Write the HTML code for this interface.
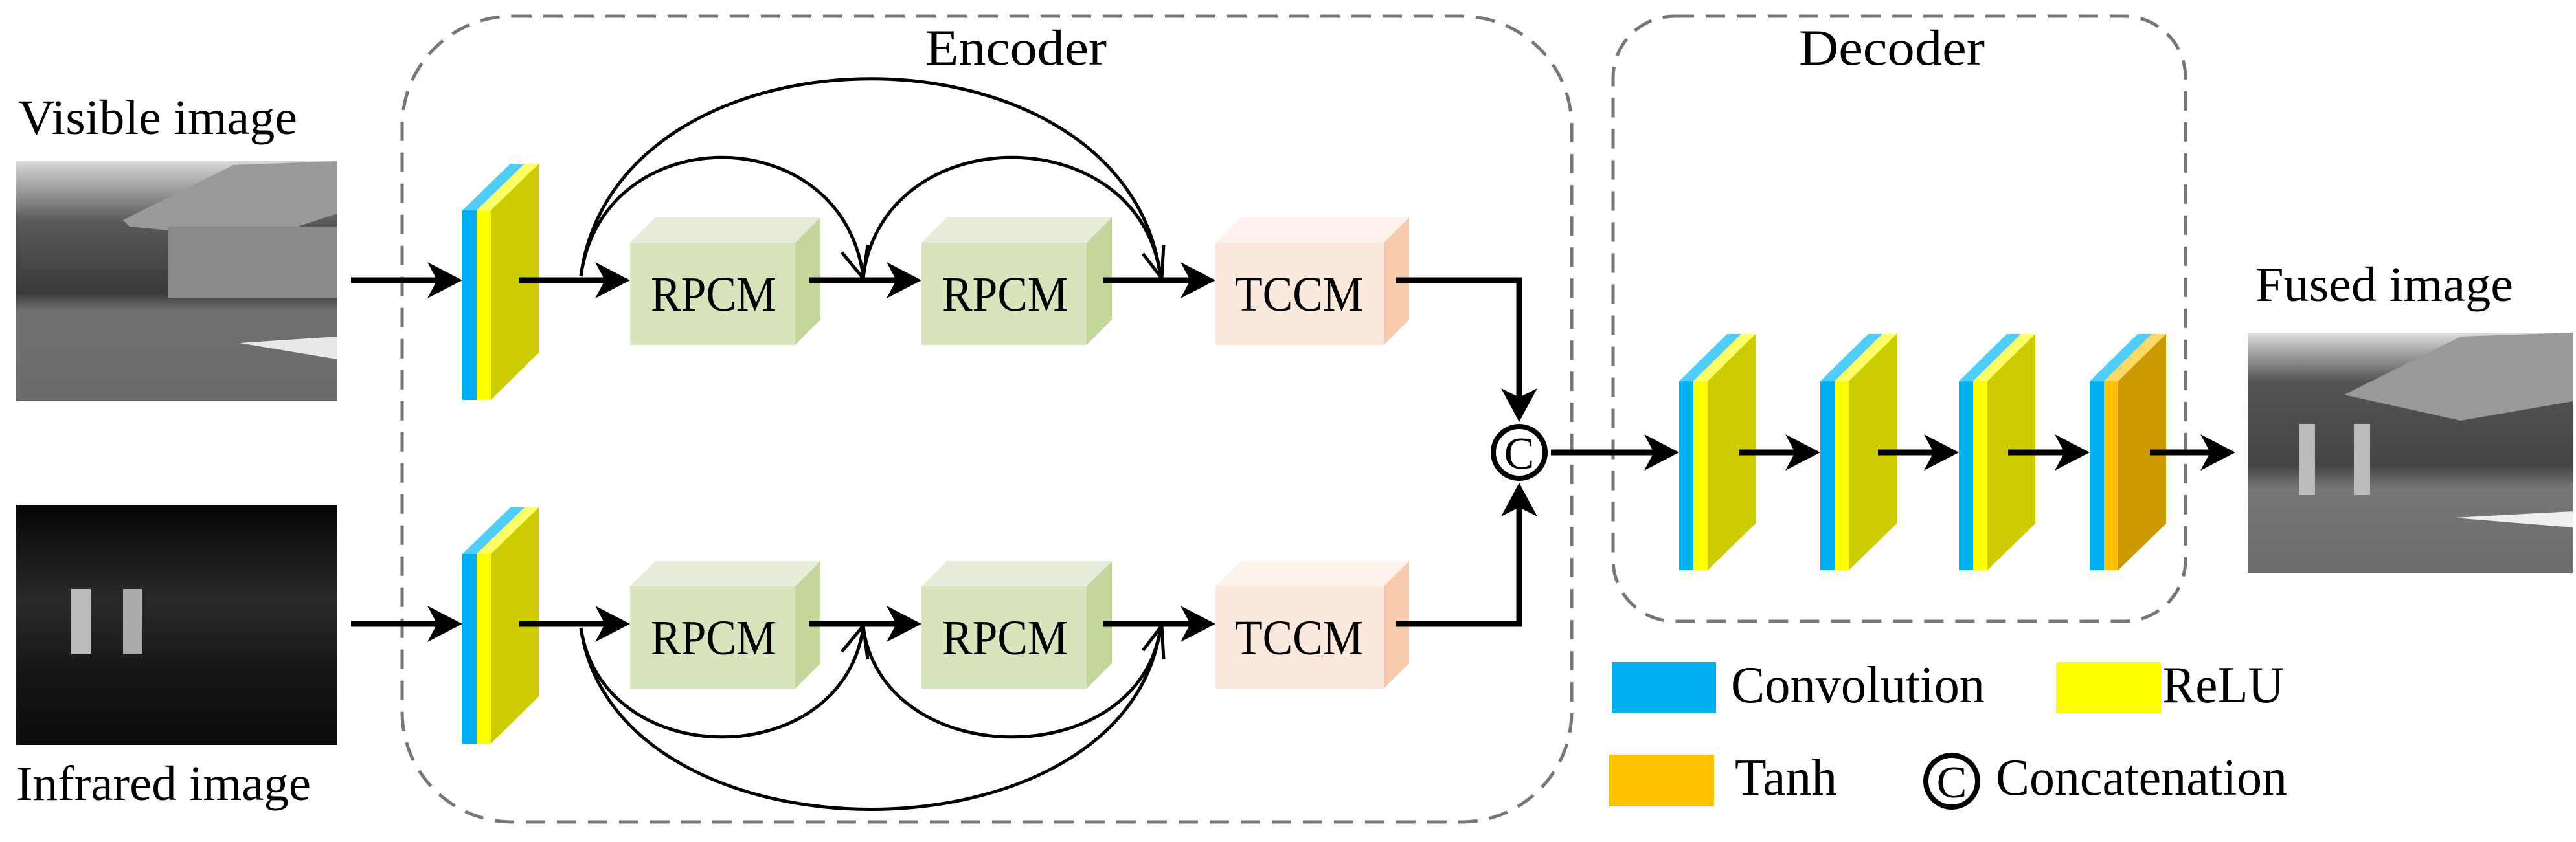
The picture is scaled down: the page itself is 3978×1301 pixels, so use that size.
<!DOCTYPE html>
<html><head><meta charset="utf-8"><style>html,body{margin:0;padding:0;background:#fff}svg{display:block}text{font-family:"Liberation Serif","DejaVu Serif",serif}</style></head>
<body>
<svg width="3978" height="1301" viewBox="0 0 3978 1301" xmlns="http://www.w3.org/2000/svg" style="font-family:'Liberation Serif',serif">
<defs>
<linearGradient id="vis" x1="0" y1="0" x2="0" y2="1">
<stop offset="0" stop-color="#d8d8d8"/><stop offset="0.25" stop-color="#5a5a5a"/><stop offset="0.55" stop-color="#3a3a3a"/><stop offset="0.62" stop-color="#707070"/><stop offset="1" stop-color="#6a6a6a"/></linearGradient>
<linearGradient id="ir" x1="0" y1="0" x2="0" y2="1">
<stop offset="0" stop-color="#050505"/><stop offset="0.4" stop-color="#2a2a2a"/><stop offset="0.7" stop-color="#151515"/><stop offset="1" stop-color="#0c0c0c"/></linearGradient>
<linearGradient id="fus" x1="0" y1="0" x2="0" y2="1">
<stop offset="0" stop-color="#dcdcdc"/><stop offset="0.2" stop-color="#555"/><stop offset="0.55" stop-color="#444"/><stop offset="0.65" stop-color="#777"/><stop offset="1" stop-color="#6c6c6c"/></linearGradient>
</defs>

<rect x="621" y="25" width="1806" height="1245" rx="170" ry="170" fill="none" stroke="#777" stroke-width="5" stroke-dasharray="30,18"/>
<rect x="2491" y="25" width="884" height="935" rx="95" ry="95" fill="none" stroke="#777" stroke-width="5" stroke-dasharray="30,18"/>

<text x="28" y="207" font-size="76" textLength="431" lengthAdjust="spacingAndGlyphs">Visible image</text>
<text x="25" y="1236" font-size="76" textLength="455" lengthAdjust="spacingAndGlyphs">Infrared image</text>
<text x="1429" y="100" font-size="78" textLength="280" lengthAdjust="spacingAndGlyphs">Encoder</text>
<text x="2778" y="100" font-size="78" textLength="287" lengthAdjust="spacingAndGlyphs">Decoder</text>
<text x="3483" y="465" font-size="76" textLength="398" lengthAdjust="spacingAndGlyphs">Fused image</text>

<rect x="25" y="249" width="495" height="371" fill="url(#vis)"/>
<polygon points="190,340 360,255 520,249 520,330 400,370 200,350" fill="#9a9a9a"/>
<rect x="260" y="350" width="260" height="110" fill="#8a8a8a"/>
<polygon points="370,530 520,520 520,555" fill="#e8e8e8"/>
<rect x="25" y="780" width="495" height="371" fill="url(#ir)"/>
<rect x="110" y="910" width="30" height="100" fill="#bbb"/>
<rect x="190" y="910" width="30" height="100" fill="#aaa"/>
<rect x="3471" y="514" width="502" height="372" fill="url(#fus)"/>
<polygon points="3620,610 3800,520 3973,514 3973,620 3800,650" fill="#999"/>
<rect x="3550" y="655" width="25" height="110" fill="#bbb"/>
<rect x="3635" y="655" width="25" height="110" fill="#bbb"/>
<polygon points="3790,800 3973,790 3973,815" fill="#eee"/>

<g>
<polygon points="714,325 736,325 810,253 788,253" fill="#4fcdfb"/>
<polygon points="736,325 758,325 832,253 810,253" fill="#ffff66"/>
<rect x="714" y="325" width="22" height="293" fill="#00b0f0"/>
<rect x="736" y="325" width="22" height="293" fill="#ffff00"/>
<polygon points="758,325 832,253 832,545 758,618" fill="#cccc00"/>
</g>
<g transform="translate(0,531)">
<polygon points="714,325 736,325 810,253 788,253" fill="#4fcdfb"/>
<polygon points="736,325 758,325 832,253 810,253" fill="#ffff66"/>
<rect x="714" y="325" width="22" height="293" fill="#00b0f0"/>
<rect x="736" y="325" width="22" height="293" fill="#ffff00"/>
<polygon points="758,325 832,253 832,545 758,618" fill="#cccc00"/>
</g>

<g transform="translate(1879,263)">
<polygon points="714,326 736,326 810,253 788,253" fill="#4fcdfb"/>
<polygon points="736,326 758,326 832,253 810,253" fill="#ffff66"/>
<rect x="714" y="326" width="22" height="292" fill="#00b0f0"/>
<rect x="736" y="326" width="22" height="292" fill="#ffff00"/>
<polygon points="758,326 832,253 832,546 758,618" fill="#cccc00"/>
</g>
<g transform="translate(2097,263)">
<polygon points="714,326 736,326 810,253 788,253" fill="#4fcdfb"/>
<polygon points="736,326 758,326 832,253 810,253" fill="#ffff66"/>
<rect x="714" y="326" width="22" height="292" fill="#00b0f0"/>
<rect x="736" y="326" width="22" height="292" fill="#ffff00"/>
<polygon points="758,326 832,253 832,546 758,618" fill="#cccc00"/>
</g>
<g transform="translate(2311,263)">
<polygon points="714,326 736,326 810,253 788,253" fill="#4fcdfb"/>
<polygon points="736,326 758,326 832,253 810,253" fill="#ffff66"/>
<rect x="714" y="326" width="22" height="292" fill="#00b0f0"/>
<rect x="736" y="326" width="22" height="292" fill="#ffff00"/>
<polygon points="758,326 832,253 832,546 758,618" fill="#cccc00"/>
</g>
<g transform="translate(2513,263)">
<polygon points="714,326 736,326 810,253 788,253" fill="#4fcdfb"/>
<polygon points="736,326 758,326 832,253 810,253" fill="#ffd966"/>
<rect x="714" y="326" width="22" height="292" fill="#00b0f0"/>
<rect x="736" y="326" width="22" height="292" fill="#ffc000"/>
<polygon points="758,326 832,253 832,546 758,618" fill="#cc9900"/>
</g>

<g>
<polygon points="973,375 1012,336 1267,336 1228,375" fill="#e6ecd9"/>
<polygon points="1228,375 1267,336 1267,494 1228,533" fill="#c3d69b"/>
<rect x="973" y="375" width="255" height="158" fill="#d8e4bc"/>
<polygon points="1423,375 1462,336 1717,336 1678,375" fill="#e6ecd9"/>
<polygon points="1678,375 1717,336 1717,494 1678,533" fill="#c3d69b"/>
<rect x="1423" y="375" width="255" height="158" fill="#d8e4bc"/>
<polygon points="1877,375 1916,336 2176,336 2137,375" fill="#fdf1eb"/>
<polygon points="2137,375 2176,336 2176,494 2137,533" fill="#f8cbad"/>
<rect x="1877" y="375" width="260" height="158" fill="#fbe9dd"/>
</g>
<g transform="translate(0,531)">
<polygon points="973,375 1012,336 1267,336 1228,375" fill="#e6ecd9"/>
<polygon points="1228,375 1267,336 1267,494 1228,533" fill="#c3d69b"/>
<rect x="973" y="375" width="255" height="158" fill="#d8e4bc"/>
<polygon points="1423,375 1462,336 1717,336 1678,375" fill="#e6ecd9"/>
<polygon points="1678,375 1717,336 1717,494 1678,533" fill="#c3d69b"/>
<rect x="1423" y="375" width="255" height="158" fill="#d8e4bc"/>
<polygon points="1877,375 1916,336 2176,336 2137,375" fill="#fdf1eb"/>
<polygon points="2137,375 2176,336 2176,494 2137,533" fill="#f8cbad"/>
<rect x="1877" y="375" width="260" height="158" fill="#fbe9dd"/>
</g>
<g font-size="76">
<text x="1005" y="480" textLength="194" lengthAdjust="spacingAndGlyphs">RPCM</text>
<text x="1455" y="480" textLength="194" lengthAdjust="spacingAndGlyphs">RPCM</text>
<text x="1907" y="480" textLength="198" lengthAdjust="spacingAndGlyphs">TCCM</text>
<text x="1005" y="1011" textLength="194" lengthAdjust="spacingAndGlyphs">RPCM</text>
<text x="1455" y="1011" textLength="194" lengthAdjust="spacingAndGlyphs">RPCM</text>
<text x="1907" y="1011" textLength="198" lengthAdjust="spacingAndGlyphs">TCCM</text>
</g>

<g stroke="#000" stroke-width="9" fill="none">
<line x1="542" y1="433" x2="680" y2="433"/>
<line x1="801" y1="433" x2="940" y2="433"/>
<line x1="1250" y1="433" x2="1390" y2="433"/>
<line x1="1704" y1="433" x2="1845" y2="433"/>
<line x1="542" y1="964" x2="680" y2="964"/>
<line x1="801" y1="964" x2="940" y2="964"/>
<line x1="1250" y1="964" x2="1390" y2="964"/>
<line x1="1704" y1="964" x2="1845" y2="964"/>
<polyline points="2156,433 2346,433 2346,620"/>
<polyline points="2156,964 2346,964 2346,780"/>
<line x1="2395" y1="699" x2="2560" y2="699"/>
<line x1="2686" y1="699" x2="2780" y2="699"/>
<line x1="2900" y1="699" x2="2994" y2="699"/>
<line x1="3101" y1="699" x2="3196" y2="699"/>
<line x1="3320" y1="699" x2="3420" y2="699"/>
</g>
<g fill="#000">
<polygon points="714,433 660,405 675,433 660,461"/>
<polygon points="973,433 919,405 934,433 919,461"/>
<polygon points="1423,433 1369,405 1384,433 1369,461"/>
<polygon points="1877,433 1823,405 1838,433 1823,461"/>
<polygon points="714,964 660,936 675,964 660,992"/>
<polygon points="973,964 919,936 934,964 919,992"/>
<polygon points="1423,964 1369,936 1384,964 1369,992"/>
<polygon points="1877,964 1823,936 1838,964 1823,992"/>
<polygon points="2346,652 2318,600 2346,614 2374,600"/>
<polygon points="2346,746 2318,798 2346,784 2374,798"/>
<polygon points="2593,699 2539,671 2554,699 2539,727"/>
<polygon points="2811,699 2757,671 2772,699 2757,727"/>
<polygon points="3025,699 2971,671 2986,699 2971,727"/>
<polygon points="3227,699 3173,671 3188,699 3173,727"/>
<polygon points="3452,699 3398,671 3413,699 3398,727"/>
</g>

<g stroke="#000" stroke-width="5" fill="none">
<path d="M897,427 C950,20 1740,20 1792,427"/>
<path d="M897,427 C930,182 1300,182 1333,427"/>
<path d="M1333,427 C1366,182 1760,182 1792,427"/>
<polyline points="1300,390 1333,430 1340,378"/>
<polyline points="1765,392 1794,430 1797,378"/>
<path d="M897,970 C950,1344 1740,1344 1792,970"/>
<path d="M897,970 C930,1195 1300,1195 1333,970"/>
<path d="M1333,970 C1366,1195 1760,1195 1792,970"/>
<polyline points="1300,1007 1333,967 1340,1019"/>
<polyline points="1765,1005 1794,967 1797,1019"/>
</g>

<circle cx="2346" cy="699" r="40" fill="#fff" stroke="#000" stroke-width="8"/>
<text x="2346" y="724" font-size="70" text-anchor="middle">C</text>

<rect x="2489" y="1023" width="161" height="79" fill="#00b0f0"/>
<text x="2673" y="1085" font-size="80" textLength="392" lengthAdjust="spacingAndGlyphs">Convolution</text>
<rect x="3175" y="1023" width="162" height="79" fill="#ffff00"/>
<text x="3339" y="1085" font-size="80" textLength="188" lengthAdjust="spacingAndGlyphs">ReLU</text>
<rect x="2485" y="1166" width="162" height="80" fill="#ffc000"/>
<text x="2679" y="1228" font-size="80" textLength="158" lengthAdjust="spacingAndGlyphs">Tanh</text>
<circle cx="3014" cy="1207" r="40" fill="#fff" stroke="#000" stroke-width="8"/>
<text x="3014" y="1232" font-size="70" text-anchor="middle">C</text>
<text x="3082" y="1228" font-size="80" textLength="450" lengthAdjust="spacingAndGlyphs">Concatenation</text>
</svg>
</body></html>
